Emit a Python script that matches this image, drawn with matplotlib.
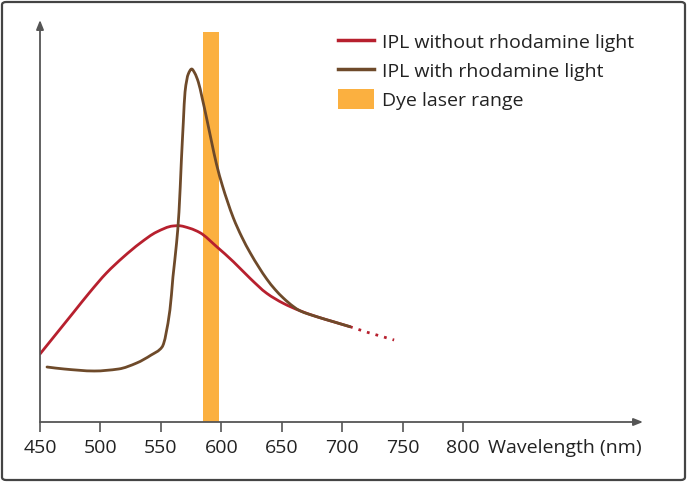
import matplotlib
matplotlib.use("Agg")
import numpy as np
import matplotlib.pyplot as plt
from matplotlib.patches import FancyBboxPatch, Rectangle, PathPatch, Patch
from matplotlib.lines import Line2D
from matplotlib.path import Path

plt.rcParams['font.family'] = ['Open Sans', 'DejaVu Sans']

# --- data (wavelength nm, relative intensity in arbitrary units) ---
red_wl = [450, 464, 478, 491, 505, 519, 533, 546.5, 560, 564.5, 574, 582.4, 596.2,
          610, 623.8, 637.6, 651.3, 665, 679, 692.7, 706.5]
red_val = [68, 89, 110, 129.5, 149, 165, 179, 190, 196, 196.3, 193.7, 189.3, 175.3,
           160.3, 143.7, 128.7, 118.7, 111.3, 105.3, 100.3, 95.3]

red_dot_wl = [706.5, 720, 743]
red_dot_val = [95.3, 90, 82]

brown_wl = [455.8, 470, 495, 515, 530, 542, 551, 557.5, 560, 563, 565, 567, 568.6,
            570, 572.7, 575.5, 578, 581, 584, 588, 592, 596, 601, 605, 610, 617, 624,
            631, 637.6, 644.5, 651.3, 659.6, 665, 679, 692.7, 706.5]
brown_val = [55, 53, 51, 53, 59, 67, 75, 112, 145, 179, 210, 262, 300,
             330, 348, 353, 349, 340, 325, 303, 280, 258, 236, 221, 204, 185, 169,
             155, 143, 132.5, 124, 115.5, 111.3, 105.3, 100.3, 95.3]

dye_range = [585, 598]
dye_top = 390

xticks = [450, 500, 550, 600, 650, 700, 750, 800]
labels = ["IPL without rhodamine light", "IPL with rhodamine light", "Dye laser range"]
xlabel = "Wavelength (nm)"

RED = "#b7202e"
BROWN = "#6e4a2a"
ORANGE = "#fbb040"
AX = "#555555"


def smooth_path(xs, ys):
    """Monotone cubic Hermite (PCHIP-style) curve through the points, as Bezier path."""
    xs = np.asarray(xs, float)
    ys = np.asarray(ys, float)
    n = len(xs)
    h = np.diff(xs)
    d = np.diff(ys) / h
    m = np.zeros(n)
    m[0], m[-1] = d[0], d[-1]
    for i in range(1, n - 1):
        if d[i - 1] * d[i] <= 0:
            m[i] = 0.0
        else:
            w1 = 2 * h[i] + h[i - 1]
            w2 = h[i] + 2 * h[i - 1]
            m[i] = (w1 + w2) / (w1 / d[i - 1] + w2 / d[i])
    verts = [(xs[0], ys[0])]
    codes = [Path.MOVETO]
    for i in range(n - 1):
        verts += [(xs[i] + h[i] / 3, ys[i] + m[i] * h[i] / 3),
                  (xs[i + 1] - h[i] / 3, ys[i + 1] - m[i + 1] * h[i] / 3),
                  (xs[i + 1], ys[i + 1])]
        codes += [Path.CURVE4] * 3
    return Path(verts, codes)


W, H = 687, 482
fig = plt.figure(figsize=(W / 100, H / 100), dpi=100)
fig.patch.set_facecolor("white")

# rounded border
border = FancyBboxPatch((2 / W, 2 / H), (W - 4) / W, (H - 4) / H,
                        boxstyle="round,pad=0,rounding_size=0.006",
                        transform=fig.transFigure, fill=False,
                        edgecolor="#444444", linewidth=1.6)
fig.patches.append(border)

x0, x1 = 40, 643
y0, y1 = 422, 20
ax = fig.add_axes([x0 / W, (H - y0) / H, (x1 - x0) / W, (y0 - y1) / H])
px_per_nm = (463 - 40) / 350.0
ax.set_xlim(450, 450 + (x1 - x0) / px_per_nm)
ax.set_ylim(0, y0 - y1)
for s in ax.spines.values():
    s.set_visible(False)
ax.patch.set_alpha(0)

# dye laser bar
ax.add_patch(Rectangle((dye_range[0], 0), dye_range[1] - dye_range[0], dye_top,
                       facecolor=ORANGE, edgecolor="none", zorder=1))

ax.add_patch(PathPatch(smooth_path(red_wl, red_val), fill=False, edgecolor=RED,
                       lw=2.0, capstyle="round", joinstyle="round", zorder=3))
ax.plot(red_dot_wl, red_dot_val, color=RED, lw=2.0, ls=(0, (1, 2.2)), zorder=3)
ax.add_patch(PathPatch(smooth_path(brown_wl, brown_val), fill=False, edgecolor=BROWN,
                       lw=2.0, capstyle="round", joinstyle="round", zorder=4))

# axes arrows
ax.annotate("", xy=(1.0, 0), xytext=(0, 0), xycoords="axes fraction",
            arrowprops=dict(arrowstyle="-|>,head_length=0.55,head_width=0.22",
                            color=AX, lw=1.3, shrinkA=0, shrinkB=0), zorder=5)
ax.annotate("", xy=(0, 1.0), xytext=(0, 0), xycoords="axes fraction",
            arrowprops=dict(arrowstyle="-|>,head_length=0.55,head_width=0.22",
                            color=AX, lw=1.3, shrinkA=0, shrinkB=0), zorder=5)

ax.set_yticks([])
ax.set_xticks(xticks)
ax.set_xticklabels([str(t) for t in xticks])
ax.tick_params(axis="x", direction="out", length=7.5, width=1.2, color=AX,
               labelsize=14, labelcolor="#222222", pad=5)

ax.text(800 + 25 / px_per_nm, -26, xlabel, fontsize=14, color="#222222",
        ha="left", va="center")

handles = [Line2D([], [], color=RED, lw=2.5),
           Line2D([], [], color=BROWN, lw=2.5),
           Patch(facecolor=ORANGE, edgecolor="none")]
leg = fig.legend(handles, labels, loc="upper left",
                 bbox_to_anchor=(330 / W, 1 - 24 / H), frameon=False,
                 fontsize=14, handlelength=1.85, handleheight=1.2,
                 handletextpad=0.45, labelspacing=0.42, borderaxespad=0,
                 labelcolor="#222222")

fig.savefig("out.png", dpi=100)
